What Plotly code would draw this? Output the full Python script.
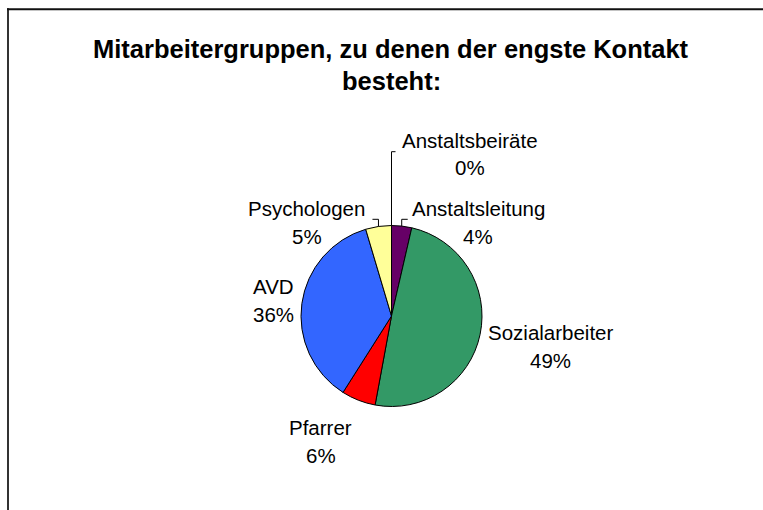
import math
import plotly.graph_objects as go

W, H = 763, 510

# ---- data ----
categories = ["Anstaltsbeiräte", "Anstaltsleitung", "Sozialarbeiter", "Pfarrer", "AVD", "Psychologen"]
values = [0.0, 3.6, 49.3, 6.1, 36.4, 4.6]
colors = ["#9999FF", "#660066", "#339966", "#FF0000", "#3366FF", "#FFFF99"]
title_lines = ["Mitarbeitergruppen, zu denen der engste Kontakt", "besteht:"]

# ---- layout (pixels) ----
CX, CY, R = 391.5, 316.0, 90.5
label_pos = {
    "Anstaltsbeiräte": (470.0, 140.0),
    "Anstaltsleitung": (478.3, 208.3),
    "Sozialarbeiter": (550.5, 332.7),
    "Pfarrer": (320.5, 427.3),
    "AVD": (273.5, 286.7),
    "Psychologen": (306.5, 208.0),
}
LINE_GAP = 28.0
leaders = {"Anstaltsbeiräte": (151.7, 4.0), "Anstaltsleitung": (219.3, 6.0), "Psychologen": (219.3, -6.0)}
FONT = "Liberation Sans, Arial, sans-serif"


def px(x):
    return x / W


def py(y):
    return 1 - y / H


fig = go.Figure(go.Pie(
    labels=categories,
    values=values,
    sort=False,
    direction="clockwise",
    rotation=0,
    marker=dict(colors=colors, line=dict(color="black", width=1)),
    textinfo="none",
    hoverinfo="label+percent",
    showlegend=False,
    domain=dict(x=[px(CX - R), px(CX + R)], y=[py(CY + R), py(CY - R)]),
))

annotations = []
shapes = []
total = sum(values)
cum = 0.0
for cat, v in zip(categories, values):
    theta = 2 * math.pi * (cum + v / 2) / total
    cum += v
    lx, ly = label_pos[cat]
    annotations.append(dict(x=px(lx), y=py(ly), xref="paper", yref="paper", text=cat,
                            showarrow=False, xanchor="center", yanchor="middle",
                            font=dict(family=FONT, size=20.5, color="black")))
    annotations.append(dict(x=px(lx), y=py(ly + LINE_GAP), xref="paper", yref="paper",
                            text=f"{round(v / total * 100)}%",
                            showarrow=False, xanchor="center", yanchor="middle",
                            font=dict(family=FONT, size=20.5, color="black")))
    if cat in leaders:
        ey_elbow, dx = leaders[cat]
        ex = CX + R * math.sin(theta)
        ey = CY - R * math.cos(theta)
        shapes.append(dict(type="path", xref="paper", yref="paper",
                           path=f"M {px(ex)},{py(ey)} L {px(ex)},{py(ey_elbow)} L {px(ex + dx)},{py(ey_elbow)}",
                           line=dict(color="black", width=1)))

annotations.append(dict(x=px(391), y=py(48.5), xref="paper", yref="paper", text=f"<b>{title_lines[0]}</b>",
                        showarrow=False, xanchor="center", yanchor="middle",
                        font=dict(family=FONT, size=25.5, color="black")))
annotations.append(dict(x=px(391), y=py(81), xref="paper", yref="paper", text=f"<b>{title_lines[1]}</b>",
                        showarrow=False, xanchor="center", yanchor="middle",
                        font=dict(family=FONT, size=25.5, color="black")))

# outer frame (left and top edges visible) as thin filled bars
shapes.append(dict(type="rect", xref="paper", yref="paper",
                   x0=px(7), x1=px(9), y0=py(H + 5), y1=py(8.3),
                   fillcolor="#333333", line=dict(width=0)))
shapes.append(dict(type="rect", xref="paper", yref="paper",
                   x0=px(7), x1=px(W + 5), y0=py(10.3), y1=py(8.3),
                   fillcolor="#111111", line=dict(width=0)))

fig.update_layout(
    width=W, height=H,
    margin=dict(l=0, r=0, t=0, b=0),
    paper_bgcolor="white",
    plot_bgcolor="white",
    annotations=annotations,
    shapes=shapes,
    hovermode=False,
)

fig.write_html(
    "out.html",
    config={"displayModeBar": False, "staticPlot": True},
    post_script="document.body.style.margin='0';document.body.style.padding='0';document.body.style.overflow='hidden';",
)
